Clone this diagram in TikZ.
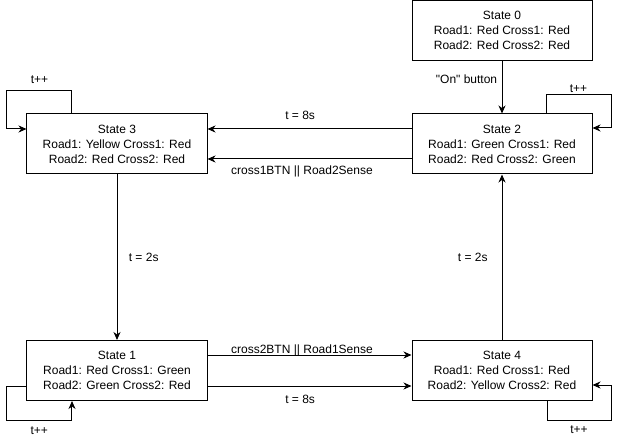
\documentclass[tikz,border=0pt]{standalone}
\usepackage{fontspec}
\setmainfont{Liberation Sans}[Ligatures=TeXOff]
\usetikzlibrary{arrows,arrows.meta,shapes,positioning}

\begin{document}
\begin{tikzpicture}[->,>={Stealth[length=8pt,width=7pt,inset=2.5pt]},auto,node distance=200pt,line width=1pt,
    every node/.style={font=\fontsize{12pt}{15pt}\selectfont},
    state/.style={draw,rectangle,align=center,minimum width=180pt,minimum height=60pt,inner sep=0pt}]
            \useasboundingbox (-117pt,144pt) rectangle (503pt,-297pt);
            \node[state] (s3)                                {State 3\\Road1: Yellow Cross1: Red\\Road2: Red Cross2: Red};
            \node[state] (s2) [right of=s3,xshift=185pt]     {State 2\\Road1: Green Cross1: Red\\Road2: Red Cross2: Green};
            \node[state] (s0) [above of=s2,yshift=-86.5pt]   {State 0\\Road1: Red Cross1: Red\\Road2: Red Cross2: Red};
            \node[state] (s1) [below of=s3,yshift=-26.5pt]   {State 1\\Road1: Red Cross1: Green\\Road2: Green Cross2: Red};
            \node[state] (s4) [right of=s1,xshift=185pt]     {State 4\\Road1: Red Cross1: Red\\Road2: Yellow Cross2: Red};

            \path
            (s0) edge              node[pos=0.35,left=1pt] {"On" button} (s2)
            (s3) edge              node[right=8pt] {t = 2s} (s1)
            (s4) edge              node[left=10.5pt] {t = 2s} (s2)
            ([yshift=15pt]s2.west) edge node[pos=0.546,anchor=base,yshift=9.7pt] {t = 8s} ([yshift=15pt]s3.east)
            ([yshift=-15pt]s2.west) edge node[pos=0.537,anchor=base,yshift=-15.3pt] {cross1BTN || Road2Sense} ([yshift=-15pt]s3.east)
            ([yshift=15.5pt]s1.east) edge node[pos=0.463,anchor=base,yshift=1.7pt] {cross2BTN || Road1Sense} ([yshift=15.5pt]s4.west)
            ([yshift=-15.5pt]s1.east) edge node[pos=0.454,anchor=base,yshift=-17.8pt] {t = 8s} ([yshift=-15.5pt]s4.west);

            % self loops
            \draw ([xshift=-45pt]s3.north) |- ++(-65pt,23pt) node[pos=0.75,anchor=base,yshift=6.7pt] {t++} |- ([yshift=15pt]s3.west);
            \draw ([xshift=44pt]s2.north) |- ++(65pt,19pt) node[pos=0.75,anchor=base,yshift=2.3pt] {t++} |- ([yshift=16pt]s2.east);
            \draw ([yshift=-15.5pt]s1.west) -| ++(-20pt,-34pt) -| node[pos=0.25,anchor=base,yshift=-14pt] {t++} ([xshift=-45pt]s1.south);
            \draw ([xshift=45pt]s4.south) |- ++(64pt,-19.5pt) node[pos=0.75,anchor=base,yshift=-13.3pt] {t++} |- ([yshift=-14.5pt]s4.east);
\end{tikzpicture}
\end{document}
